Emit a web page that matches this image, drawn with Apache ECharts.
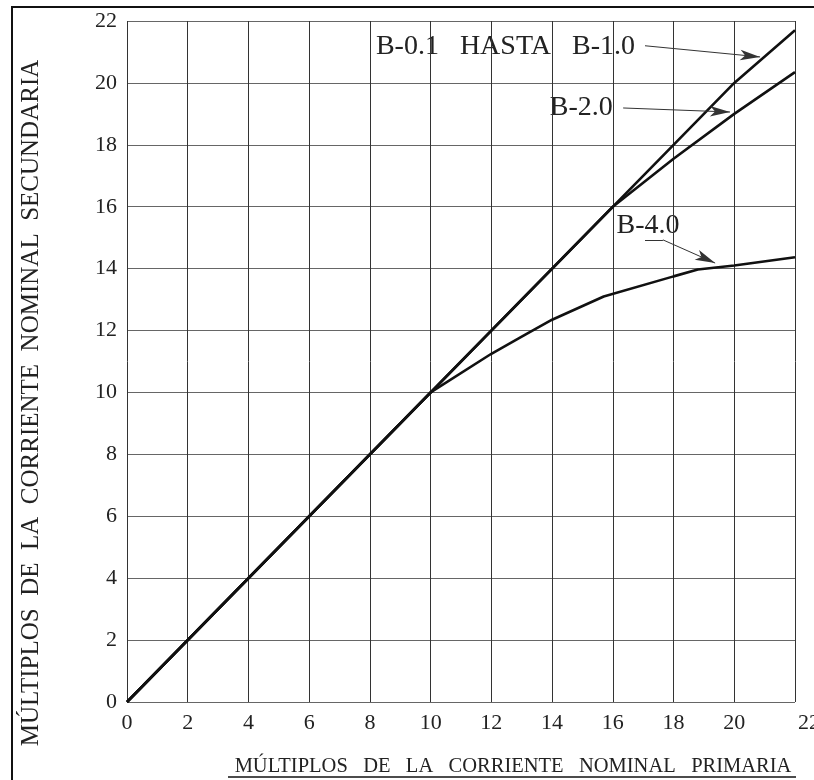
<!DOCTYPE html>
<html>
<head>
<meta charset="utf-8">
<script src="https://cdn.jsdelivr.net/npm/echarts@6/dist/echarts.min.js"></script>
<style>html,body{margin:0;padding:0;background:#fff;}#c{width:814px;height:780px;}</style>
</head>
<body>
<div id="c"></div>
<script>
// ---- data ----
const xTicks = [0, 2, 4, 6, 8, 10, 12, 14, 16, 18, 20, 22];
const yTicks = [0, 2, 4, 6, 8, 10, 12, 14, 16, 18, 20, 22];
const curveB01 = [[0, 0], [18, 18], [20, 20], [22, 21.7]];
const curveB2 = [[0, 0], [16, 16], [18, 17.55], [20, 19.0], [22, 20.35]];
const curveB4 = [[0, 0], [10, 10], [12, 11.25], [13, 11.8], [14, 12.35], [15.7, 13.1], [18, 13.75], [18.8, 13.97], [20, 14.1], [22, 14.37]];
const seriesNames = ['B-0.1 HASTA B-1.0', 'B-2.0', 'B-4.0'];
const annotationTexts = ['B-0.1   HASTA   B-1.0', 'B-2.0', 'B-4.0'];
const xTitle = 'MÚLTIPLOS   DE   LA   CORRIENTE   NOMINAL   PRIMARIA';
const yTitle = 'MÚLTIPLOS  DE  LA  CORRIENTE  NOMINAL  SECUNDARIA';

// annotation leaders (data coordinates)
const leaders = [
  { pts: [[17.06, 21.2], [20.85, 20.84]], text: [16.73, 21.16], align: 'right' },
  { pts: [[16.34, 19.19], [19.86, 19.06]], text: [16.0, 19.19], align: 'right' },
  { pts: [[17.06, 14.93], [17.65, 14.93], [19.37, 14.18]], text: [17.16, 15.4], align: 'center' }
];

const FONT = "'Liberation Serif','DejaVu Serif',serif";
const chart = echarts.init(document.getElementById('c'), null, { renderer: 'canvas' });

const markLineData = [];
leaders.forEach(l => {
  for (let i = 0; i < l.pts.length - 1; i++) {
    const last = i === l.pts.length - 2;
    markLineData.push([
      { coord: l.pts[i], symbol: 'none' },
      { coord: l.pts[i + 1], symbol: last ? 'arrow' : 'none', symbolSize: [8, 20] }
    ]);
  }
});

const lineStyle = { color: '#111', width: 2.6 };
const option = {
  animation: false,
  backgroundColor: '#fff',
  grid: { left: 127, right: 19, top: 21, bottom: 78, containLabel: false, outerBoundsMode: 'none' },
  xAxis: {
    type: 'value', min: 0, max: 22, interval: 2,
    axisLine: { show: false }, axisTick: { show: false },
    splitLine: { show: true, lineStyle: { color: '#333', width: 1 } },
    axisLabel: {
      margin: 10, fontFamily: FONT, fontSize: 22, color: '#222', hideOverlap: false,
      formatter: v => v === 22 ? '{e|22}' : String(v),
      rich: { e: { padding: [0, 0, 0, 28], fontFamily: FONT, fontSize: 22, color: '#222' } }
    }
  },
  yAxis: {
    type: 'value', min: 0, max: 22, interval: 2,
    axisLine: { show: false }, axisTick: { show: false },
    splitLine: { show: true, lineStyle: { color: '#666', width: 1 } },
    axisLabel: { margin: 10, fontFamily: FONT, fontSize: 22, color: '#222' }
  },
  series: [
    {
      name: seriesNames[0], type: 'line', data: curveB01, symbol: 'none', lineStyle: lineStyle, silent: true, z: 3,
      markLine: {
        silent: true, animation: false, symbol: ['none', 'arrow'],
        label: { show: false },
        lineStyle: { color: '#333', width: 1, type: 'solid' },
        emphasis: { disabled: true },
        data: markLineData
      }
    },
    { name: seriesNames[1], type: 'line', data: curveB2, symbol: 'none', lineStyle: lineStyle, silent: true, z: 3 },
    { name: seriesNames[2], type: 'line', data: curveB4, symbol: 'none', lineStyle: lineStyle, silent: true, z: 3 }
  ],
  graphic: []
};
chart.setOption(option);

const g = [
  { type: 'rect', shape: { x: 12, y: 7, width: 900, height: 900 }, style: { fill: 'none', stroke: '#111', lineWidth: 2 }, silent: true },
  { type: 'text', x: 31, y: 403, rotation: Math.PI / 2,
    style: { text: yTitle, fontFamily: FONT, fontSize: 25, fill: '#222', align: 'center', verticalAlign: 'middle' }, silent: true },
  { type: 'text', x: 513, y: 767,
    style: { text: xTitle, fontFamily: FONT, fontSize: 20.5, fill: '#222', align: 'center', verticalAlign: 'middle' }, silent: true },
  { type: 'line', shape: { x1: 228, y1: 777, x2: 796, y2: 777 }, style: { stroke: '#111', lineWidth: 1.5 }, silent: true }
];
leaders.forEach((l, i) => {
  const p = chart.convertToPixel({ gridIndex: 0 }, l.text);
  g.push({ type: 'text', x: p[0], y: p[1],
    style: { text: annotationTexts[i], fontFamily: FONT, fontSize: 28, fill: '#222', align: l.align, verticalAlign: 'middle' }, silent: true });
});
chart.setOption({ graphic: g });
</script>
</body>
</html>
